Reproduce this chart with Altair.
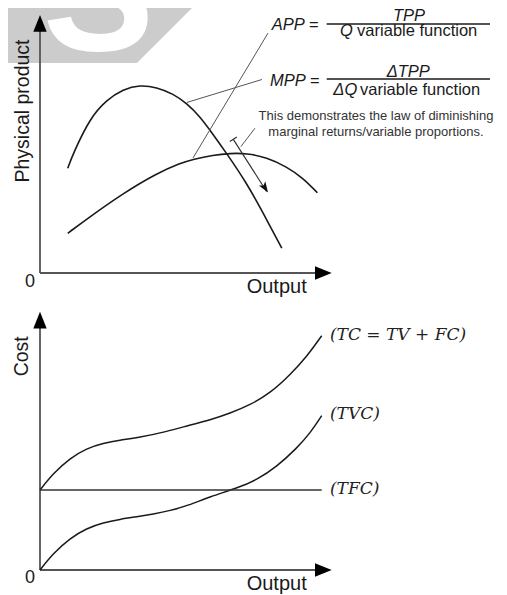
import altair as alt
import pandas as pd

# ---------------- data ----------------
# Top panel: output (0-100 along the axis) vs physical product (0-100 along the axis)
mpp_x = [9.5, 11.4, 17.1, 22.8, 28.5, 34.2, 39.9, 45.7, 50.2, 54.8, 58.2, 63.9, 70.8, 76.5, 82.8]
mpp_y = [40.6, 46.4, 60.0, 67.1, 71.2, 72.9, 72.0, 69.4, 65.8, 60.6, 55.4, 46.4, 34.8, 23.1, 9.6]
app_x = [9.5, 17.1, 28.5, 40.0, 47.9, 52.5, 59.3, 65.1, 70.8, 77.6, 84.5, 90.2, 95.0]
app_y = [15.4, 21.8, 30.9, 38.6, 42.5, 44.1, 45.7, 46.4, 46.4, 44.8, 41.2, 36.7, 31.1]

# Bottom panel: output vs cost
tvc_x = [0, 4.55, 10.27, 15.99, 21.68, 27.40, 33.12, 38.80, 44.52, 50.7, 58.22, 67.36, 74.21, 81.06, 87.91, 92.47, 96.47]
tvc_y = [0, 6.47, 12.27, 16.14, 18.31, 19.63, 20.63, 21.68, 22.96, 24.97, 28.38, 31.63, 34.84, 39.99, 47.12, 52.92, 59.74]
tc_x = [0, 4.55, 10.27, 15.99, 21.68, 27.40, 33.12, 43.39, 51.37, 58.22, 65.07, 71.92, 78.77, 85.62, 91.34, 96.47]
tc_y = [30.97, 37.44, 43.24, 47.11, 49.05, 50.33, 51.1, 53.54, 56.14, 58.07, 60.67, 63.88, 68.41, 75.49, 82.58, 90.71]
tfc_x = [0, 96.47]
tfc_y = [30.97, 30.97]

# annotation geometry (top panel units)
leader_x = [52.4, 50.3, 73.6]
leader_y = [44.6, 66.1, 56.1]
leader_x2 = [78.1, 76.0, 68.8]
leader_y2 = [93.0, 75.0, 49.0]
arrow_x, arrow_y, arrow_x2, arrow_y2 = [66.2, 67.4], [51.8, 52.7], [77.6, 65.0], [31.6, 51.0]
arrowhead_x, arrowhead_y = [78.1], [31.2]
frac_x, frac_x2, frac_y = [98.18, 98.18], [154.11, 154.11], [96.51, 75.19]

formula_lhs = ["APP =", "MPP ="]
formula_num = ["TPP", "ΔTPP"]
formula_den_var = ["Q", "ΔQ"]
formula_den_rest = ["variable function", "variable function"]
note_lines = ["This demonstrates the law of diminishing", "marginal returns/variable proportions."]
cost_labels = ["(TC = TV + FC)", "(TVC)", "(TFC)"]

# ---------------- layout ----------------
W, H = 491, 586
X_ORIGIN, X_K = 32, 2.92
TOP_ORIGIN, TOP_K = 265, 2.58
BOT_ORIGIN, BOT_K = 562, 2.583

XS = alt.Scale(domain=[-X_ORIGIN / X_K, (W - X_ORIGIN) / X_K], nice=False, zero=False)
TS = alt.Scale(domain=[(TOP_ORIGIN - H) / TOP_K, TOP_ORIGIN / TOP_K], nice=False, zero=False)
BS = alt.Scale(domain=[(BOT_ORIGIN - H) / BOT_K, BOT_ORIGIN / BOT_K], nice=False, zero=False)

SANS = "Liberation Sans"
SERIF = "DejaVu Serif"
INK = "#1a1a1a"
AXIS = "#555555"


def X():
    return alt.X("x:Q", scale=XS, axis=None)


def Y(s):
    return alt.Y("y:Q", scale=s, axis=None)


def seg(df, s, **kw):
    return alt.Chart(df).mark_rule(**kw).encode(
        x=X(), y=Y(s), x2=alt.X2("x2:Q"), y2=alt.Y2("y2:Q"))


def txt(df, s, **kw):
    return alt.Chart(df).mark_text(**kw).encode(x=X(), y=Y(s), text="t:N")


def curve(xs, ys, s, **kw):
    return alt.Chart(pd.DataFrame({"x": xs, "y": ys})).mark_line(**kw).encode(x=X(), y=Y(s))


UP = "M0,0L0.8,2L-0.8,2Z"
RIGHT = "M0,0L-2,-0.8L-2,0.8Z"
BARB = "M0,0L0.7,2L0,1.5L-0.7,2Z"

layers = []

# watermark
wm = pd.DataFrame({"x": [-13.7, 33.2, 54.8], "y": [81.4, 81.4, 105.8], "y2": [105.8, 105.8, 105.8]})
layers.append(alt.Chart(wm).mark_area(color="#cccccc", opacity=1).encode(
    x=X(), y=Y(TS), y2=alt.Y2("y2:Q")))
layers.append(txt(pd.DataFrame({"x": [20.0], "y": [86.4], "t": ["S"]}), TS,
                  font=SANS, fontSize=167, fontWeight="bold", color="white",
                  align="center", baseline="alphabetic"))

for s in (TS, BS):
    axes = pd.DataFrame({"x": [0, 0], "y": [0, 0], "x2": [0, 96], "y2": [96, 0]})
    layers.append(seg(axes, s, color=AXIS, strokeWidth=1.8))
    layers.append(alt.Chart(pd.DataFrame({"x": [0], "y": [100]})).mark_point(
        shape=UP, size=279, filled=True, color="black", opacity=1, strokeWidth=0).encode(x=X(), y=Y(s)))
    layers.append(alt.Chart(pd.DataFrame({"x": [99.9], "y": [0]})).mark_point(
        shape=RIGHT, size=279, filled=True, color="black", opacity=1, strokeWidth=0).encode(x=X(), y=Y(s)))

# top panel curves and annotations
layers.append(curve(mpp_x, mpp_y, TS, color=INK, strokeWidth=1.6, interpolate="basis"))
layers.append(curve(app_x, app_y, TS, color=INK, strokeWidth=1.6, interpolate="basis"))
layers.append(seg(pd.DataFrame({"x": leader_x, "y": leader_y, "x2": leader_x2, "y2": leader_y2}),
                  TS, color="#555555", strokeWidth=1))
layers.append(seg(pd.DataFrame({"x": arrow_x, "y": arrow_y, "x2": arrow_x2, "y2": arrow_y2}),
                  TS, color="#333333", strokeWidth=1.2))
layers.append(alt.Chart(pd.DataFrame({"x": arrowhead_x, "y": arrowhead_y})).mark_point(
    shape=BARB, size=121, angle=147, filled=True, color="#111111", opacity=1, strokeWidth=0).encode(
    x=X(), y=Y(TS)))
layers.append(seg(pd.DataFrame({"x": frac_x, "y": frac_y, "x2": frac_x2, "y2": frac_y}),
                  TS, color=INK, strokeWidth=1.3))

layers.append(txt(pd.DataFrame({"x": [79.35, 78.77], "y": [94.2, 72.6], "t": formula_lhs}), TS,
                  font=SANS, fontSize=16.5, fontStyle="italic", color=INK, align="left", baseline="alphabetic"))
layers.append(txt(pd.DataFrame({"x": [126.37, 126.1], "y": [97.8, 76.09], "t": formula_num}), TS,
                  font=SANS, fontSize=16.5, fontStyle="italic", color=INK, align="center", baseline="alphabetic"))
layers.append(txt(pd.DataFrame({"x": [102.74, 100.45], "y": [91.74, 69.0], "t": formula_den_var}), TS,
                  font=SANS, fontSize=16.5, fontStyle="italic", color=INK, align="left", baseline="alphabetic"))
layers.append(txt(pd.DataFrame({"x": [108.6, 109.6], "y": [91.74, 69.0], "t": formula_den_rest}), TS,
                  font=SANS, fontSize=16.5, color=INK, align="left", baseline="alphabetic"))
layers.append(txt(pd.DataFrame({"x": [115.07, 115.07], "y": [60.85, 54.65], "t": note_lines}), TS,
                  font=SANS, fontSize=13, color="#333333", align="center", baseline="middle"))

# top panel axis labels
layers.append(txt(pd.DataFrame({"x": [-5.99], "y": [62.79], "t": ["Physical product"]}), TS,
                  font=SANS, fontSize=19.5, angle=270, color=INK, align="center", baseline="middle"))
layers.append(txt(pd.DataFrame({"x": [-3.42], "y": [-3.49], "t": ["0"]}), TS,
                  font=SANS, fontSize=18, color=INK, align="center", baseline="middle"))
layers.append(txt(pd.DataFrame({"x": [81.06], "y": [-5.62], "t": ["Output"]}), TS,
                  font=SANS, fontSize=20, color=INK, align="center", baseline="middle"))

# bottom panel
layers.append(curve(tc_x, tc_y, BS, color=INK, strokeWidth=1.5, interpolate="basis"))
layers.append(curve(tvc_x, tvc_y, BS, color=INK, strokeWidth=1.5, interpolate="basis"))
layers.append(curve(tfc_x, tfc_y, BS, color="#333333", strokeWidth=1.6))
layers.append(txt(pd.DataFrame({"x": [99.3, 99.3, 99.3], "y": [90.98, 60.27, 31.2], "t": cost_labels}), BS,
                  font=SERIF, fontSize=17, fontStyle="italic", color="#222222", align="left", baseline="middle"))
layers.append(txt(pd.DataFrame({"x": [-6.06], "y": [82.73], "t": ["Cost"]}), BS,
                  font=SANS, fontSize=19.5, angle=270, color=INK, align="center", baseline="middle"))
layers.append(txt(pd.DataFrame({"x": [-3.42], "y": [-3.21], "t": ["0"]}), BS,
                  font=SANS, fontSize=18, color=INK, align="center", baseline="middle"))
layers.append(txt(pd.DataFrame({"x": [81.06], "y": [-5.30], "t": ["Output"]}), BS,
                  font=SANS, fontSize=20, color=INK, align="center", baseline="middle"))

chart = alt.layer(*layers).resolve_scale(y="independent").properties(
    width=W, height=H, padding=0, autosize=alt.AutoSizeParams(type="none"), background="white"
).configure_view(stroke=None)

chart.save("out.html", embed_options={"renderer": "svg", "actions": False})
